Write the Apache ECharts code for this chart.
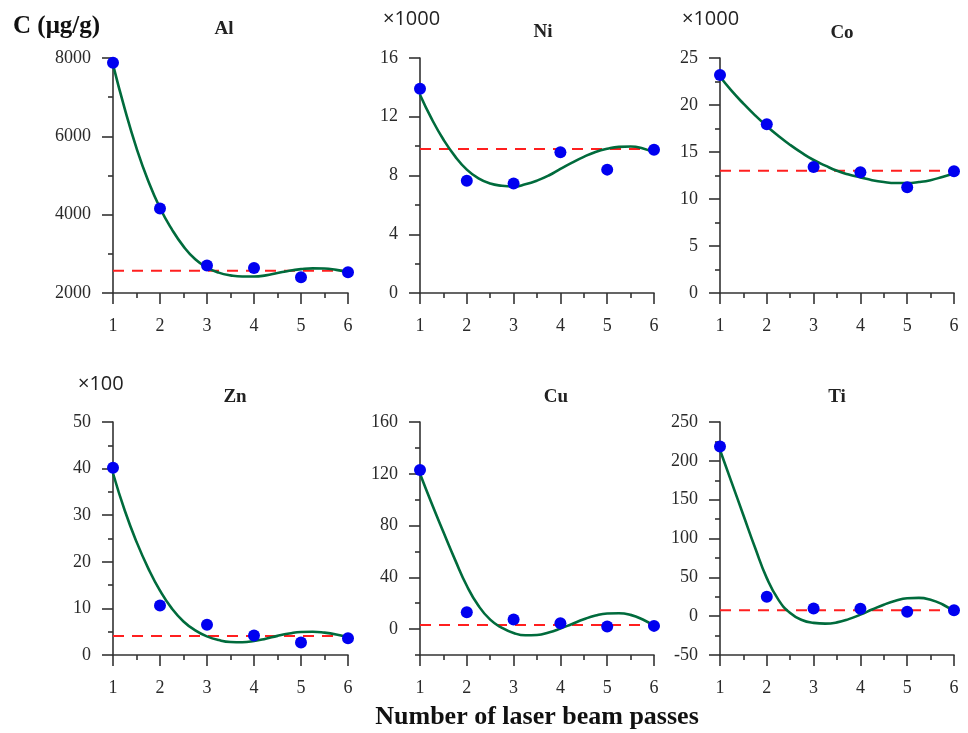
<!DOCTYPE html>
<html><head><meta charset="utf-8">
<script src="https://cdn.jsdelivr.net/npm/echarts@6/dist/echarts.min.js"></script>
<style>html,body{margin:0;padding:0;background:#fff}#c{width:968px;height:733px}</style>
</head><body><div id="c"></div>
<script>
// ---- data ----
const passes = [1, 2, 3, 4, 5, 6];
const fitX = [1, 1.25, 1.5, 1.75, 2, 2.25, 2.5, 2.75, 3, 3.25, 3.5, 3.75, 4, 4.25, 4.5, 4.75, 5, 5.25, 5.5, 5.75, 6];

const alValues = [7880, 4160, 2700, 2640, 2400, 2530];
const alFit = [7830, 6700, 5700, 4860, 4170, 3630, 3190, 2860, 2650, 2520, 2450, 2420, 2420, 2450, 2510, 2570, 2610, 2630, 2625, 2590, 2540];
const alMean = 2570;

const niValues = [13.9, 7.65, 7.45, 9.58, 8.4, 9.75];
const niFit = [13.5, 11.85, 10.45, 9.3, 8.4, 7.8, 7.45, 7.3, 7.25, 7.4, 7.65, 8.0, 8.45, 8.88, 9.27, 9.6, 9.82, 9.95, 9.97, 9.85, 9.55];
const niMean = 9.8;

const coValues = [23.2, 17.95, 13.4, 12.85, 11.25, 12.95];
const coFit = [23.0, 21.5, 20.15, 18.9, 17.75, 16.7, 15.75, 14.9, 14.15, 13.55, 13.0, 12.6, 12.3, 12.0, 11.8, 11.7, 11.7, 11.8, 12.0, 12.35, 12.75];
const coMean = 13.0;

const znValues = [40.2, 10.6, 6.5, 4.2, 2.7, 3.6];
const znFit = [39, 31, 24.3, 18.6, 13.8, 10.0, 7.2, 5.3, 4.0, 3.2, 2.8, 2.75, 3.0, 3.5, 4.1, 4.6, 4.95, 5.0, 4.8, 4.4, 3.8];
const znMean = 4.1;

const cuValues = [123, 13.1, 7.5, 4.6, 2.1, 2.5];
const cuFit = [120, 97, 75, 53.5, 33.5, 18, 7.3, 1, -3, -4.8, -4.5, -2.6, 0.4, 4, 7.6, 10.5, 12.1, 12.3, 11, 7.6, 2.5];
const cuMean = 3.1;

const tiValues = [218.5, 24.9, 9.9, 9.4, 5.6, 7.7];
const tiFit = [214, 172, 130, 88, 49, 21, 4, -5, -8.6, -9.6, -8, -3.8, 2, 8.5, 14.8, 19.8, 23, 23.6, 21.2, 15.3, 6];
const tiMean = 7.5;

const panelNames = ['Al', 'Ni', 'Co', 'Zn', 'Cu', 'Ti'];
const yMins = [2000, 0, 0, 0, -20, -50];
const yMaxs = [8000, 16, 25, 50, 160, 250];
const yIntervals = [2000, 4, 5, 10, 20, 50];
const cuLabelTicks = [0, 40, 80, 120, 160];
const cuMinorTicks = [-20, 20, 60, 100, 140];
const xTickLabels = ['1', '2', '3', '4', '5', '6'];
const xAxisTitle = 'Number of laser beam passes';
const yAxisTitle = 'C (μg/g)';
const scaleNotes = ['', '×1000', '×1000', '×100', '', ''];

// ---- chart ----
const values = [alValues, niValues, coValues, znValues, cuValues, tiValues];
const fits = [alFit, niFit, coFit, znFit, cuFit, tiFit];
const means = [alMean, niMean, coMean, znMean, cuMean, tiMean];

const grids = [
  {left: 113, top: 58, width: 235, height: 235},
  {left: 420, top: 58, width: 234, height: 235},
  {left: 720, top: 58, width: 234, height: 235},
  {left: 113, top: 422, width: 235, height: 233},
  {left: 420, top: 422, width: 234, height: 233},
  {left: 720, top: 422, width: 234, height: 233}
];
const serif = '"Liberation Serif", "Times New Roman", serif';
const axisColor = '#333';
const labelColor = '#2a2a2a';

const xAxes = [], yAxes = [], series = [];
grids.forEach((g, i) => {
  xAxes.push({
    gridIndex: i, type: 'value', min: 1, max: 6, interval: 1,
    axisLine: {onZero: false, lineStyle: {color: axisColor, width: 1.6}},
    axisTick: {show: true, length: 11, lineStyle: {color: axisColor, width: 1.6}},
    minorTick: {show: true, splitNumber: 2, length: 5, lineStyle: {color: axisColor, width: 1.6}},
    splitLine: {show: false}, minorSplitLine: {show: false},
    axisLabel: {margin: 24, fontFamily: serif, fontSize: 18, color: labelColor,
      formatter: v => xTickLabels[Math.round(v) - 1]}
  });
  const isCu = panelNames[i] === 'Cu';
  const y = {
    gridIndex: i, type: 'value', min: yMins[i], max: yMaxs[i], interval: yIntervals[i],
    axisLine: {show: true, lineStyle: {color: axisColor, width: 1.6}},
    axisTick: {show: true, length: 11, lineStyle: {color: axisColor, width: 1.6}},
    minorTick: {show: !isCu, splitNumber: 2, length: 5, lineStyle: {color: axisColor, width: 1.6}},
    splitLine: {show: false}, minorSplitLine: {show: false},
    axisLabel: {margin: 22, fontFamily: serif, fontSize: 18, color: labelColor,
      formatter: v => String(v)}
  };
  if (isCu) {
    y.axisTick.customValues = cuLabelTicks;
    y.axisLabel.customValues = cuLabelTicks;
  }
  yAxes.push(y);
});
// minor ticks for Cu panel
const cuIdx = panelNames.indexOf('Cu');
yAxes.push({
  gridIndex: cuIdx, type: 'value', position: 'left', min: yMins[cuIdx], max: yMaxs[cuIdx], interval: yIntervals[cuIdx],
  axisLine: {show: false}, splitLine: {show: false},
  axisTick: {show: true, length: 5, customValues: cuMinorTicks, lineStyle: {color: axisColor, width: 1.6}},
  axisLabel: {show: false}
});

grids.forEach((g, i) => {
  series.push({
    type: 'line', xAxisIndex: i, yAxisIndex: i, symbol: 'none', z: 2, silent: true,
    data: [[passes[0], means[i]], [passes[passes.length - 1], means[i]]],
    lineStyle: {color: '#ff1f1f', width: 2, type: [11, 8]}
  });
  series.push({
    type: 'line', xAxisIndex: i, yAxisIndex: i, symbol: 'none', smooth: 0.5, z: 3, silent: true,
    data: fitX.map((x, k) => [x, fits[i][k]]),
    lineStyle: {color: '#006b3c', width: 2.6}
  });
  series.push({
    type: 'scatter', xAxisIndex: i, yAxisIndex: i, z: 4, symbolSize: 12,
    data: passes.map((x, k) => [x, values[i][k]]),
    itemStyle: {color: '#0000f0', opacity: 1}
  });
});

const titlePos = [[224, 29], [543, 32], [842, 33], [235, 397], [556, 397], [837, 397]];
const notePos = [null, [383, 19], [682, 19], [78, 384], null, null];
const graphics = [];
panelNames.forEach((n, i) => {
  graphics.push({type: 'text', x: titlePos[i][0], y: titlePos[i][1],
    style: {text: n, font: 'bold 19px ' + serif, fill: '#222', align: 'center', verticalAlign: 'middle'}});
  if (scaleNotes[i]) {
    graphics.push({type: 'text', x: notePos[i][0], y: notePos[i][1],
      style: {text: scaleNotes[i], font: '20px "Open Sans", "Noto Sans", sans-serif', fill: '#222', align: 'left', verticalAlign: 'middle'}});
  }
});
graphics.push({type: 'text', x: 13, y: 27,
  style: {text: yAxisTitle, font: 'bold 25px ' + serif, fill: '#111', align: 'left', verticalAlign: 'middle'}});
graphics.push({type: 'text', x: 537, y: 717,
  style: {text: xAxisTitle, font: 'bold 26px ' + serif, fill: '#111', align: 'center', verticalAlign: 'middle'}});

const chart = echarts.init(document.getElementById('c'));
chart.setOption({
  animation: false,
  backgroundColor: '#fff',
  grid: grids,
  xAxis: xAxes,
  yAxis: yAxes,
  series: series,
  graphic: graphics
});
</script></body></html>
